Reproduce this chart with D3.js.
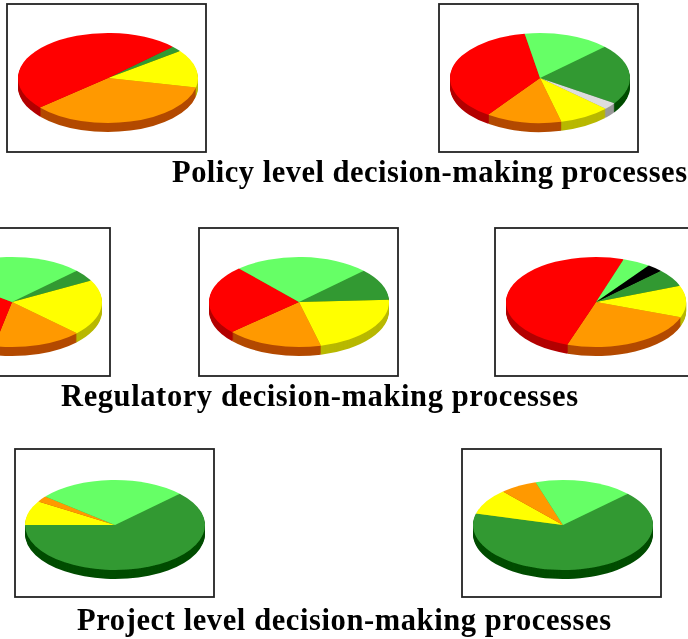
<!DOCTYPE html>
<html>
<head>
<meta charset="utf-8">
<script src="https://cdn.jsdelivr.net/npm/d3@7"></script>
<style>
  html, body { margin: 0; padding: 0; background: #fff; overflow: hidden; }
  svg { display: block; }
  .title { font-family: "Liberation Serif", serif; font-weight: bold; fill: #000; }
</style>
</head>
<body>
<div id="vis"></div>
<script>
// slice order, clockwise, same in every pie
const categories = ["dark green", "grey", "yellow", "orange", "red", "light green", "black"];

// shares in percent
const policyLeft    = [2.0,  0,   13.6, 35.3, 49.1, 0,    0];
const policyRight   = [21.7, 2.5, 9.2,  13.6, 37.5, 15.5, 0];
const regLeft       = [4.3,  0,   20.1, 16.0, 32.1, 27.5, 0];
const regMiddle     = [11.4, 0,   21.9, 17.3, 25.0, 24.4, 0];
const regRight      = [6.3,  0,   11.4, 24.7, 49.8, 5.0,  2.8];
const projectLeft   = [62.2, 0,   8.8,  2.1,  0,    26.9, 0];
const projectRight  = [66.3, 0,   9.3,  6.7,  0,    17.7, 0];

const titles = [
  "Policy level decision-making processes",
  "Regulatory decision-making processes",
  "Project level decision-making processes"
];

const topColors  = ["#339933", "#dddddd", "#ffff00", "#ff9900", "#ff0000", "#66ff66", "#000000"];
const sideColors = ["#004d00", "#999999", "#b8b800", "#b34a00", "#b30000", "#33aa33", "#000000"];

const panels = [
  { values: policyLeft,   x: 7,   y: 4,   cx: 108, cy: 78 },
  { values: policyRight,  x: 439, y: 4,   cx: 540, cy: 78 },
  { values: regLeft,      x: -89, y: 228, cx: 12,  cy: 302 },
  { values: regMiddle,    x: 199, y: 228, cx: 299, cy: 302 },
  { values: regRight,     x: 495, y: 228, cx: 596, cy: 302 },
  { values: projectLeft,  x: 15,  y: 449, cx: 115, cy: 525 },
  { values: projectRight, x: 462, y: 449, cx: 563, cy: 525 }
];

const titleLayout = [
  { x: 172, y: 182, w: 515 },
  { x: 61,  y: 406, w: 517 },
  { x: 77,  y: 630, w: 534 }
];

const width = 688, height = 639;
const frameW = 199, frameH = 148;
const rx = 90, ry = 45, depth = 9;

const svg = d3.select("#vis").append("svg")
  .attr("width", width)
  .attr("height", height);

// source picture is a soft low-res bitmap
const defs = svg.append("defs");
defs.append("filter").attr("id", "soft")
  .append("feGaussianBlur").attr("stdDeviation", 0.6);
defs.append("filter").attr("id", "softer")
  .append("feGaussianBlur").attr("stdDeviation", 0.35);

const color = d3.scaleOrdinal().domain(categories).range(topColors);
const sideColor = d3.scaleOrdinal().domain(categories).range(sideColors);

const pie = d3.pie()
  .sort(null)
  .value(d => d.value)
  .startAngle(46 * Math.PI / 180)
  .endAngle(406 * Math.PI / 180);

const arc = d3.arc().innerRadius(0).outerRadius(rx);

panels.forEach(p => {
  const rows = categories.map((c, i) => ({ key: c, value: p.values[i] }));
  const arcs = pie(rows).filter(d => d.value > 0);

  const g = svg.append("g");

  g.append("rect")
    .attr("x", p.x)
    .attr("y", p.y)
    .attr("width", frameW)
    .attr("height", frameH)
    .attr("fill", "#fff")
    .attr("stroke", "#222")
    .attr("stroke-width", 1.8)
    .attr("filter", "url(#softer)");

  const chart = g.append("g").attr("filter", "url(#soft)");

  // SIDE WALL: darker copies stacked under the top face
  d3.range(depth, 0, -1).forEach(d => {
    chart.append("g")
      .attr("transform", `translate(${p.cx},${p.cy + d}) scale(1,${ry / rx})`)
      .selectAll("path")
      .data(arcs)
      .enter()
      .append("path")
      .attr("d", arc)
      .attr("fill", a => sideColor(a.data.key));
  });

  // TOP FACE
  chart.append("g")
    .attr("transform", `translate(${p.cx},${p.cy}) scale(1,${ry / rx})`)
    .selectAll("path")
    .data(arcs)
    .enter()
    .append("path")
    .attr("d", arc)
    .attr("fill", a => color(a.data.key));
});

// TITLES
svg.selectAll(".title")
  .data(titles)
  .enter()
  .append("text")
  .attr("class", "title")
  .attr("x", (d, i) => titleLayout[i].x)
  .attr("y", (d, i) => titleLayout[i].y)
  .attr("font-size", 30.5)
  .attr("textLength", (d, i) => titleLayout[i].w)
  .attr("lengthAdjust", "spacing")
  .attr("filter", "url(#softer)")
  .text(d => d);
</script>
</body>
</html>
